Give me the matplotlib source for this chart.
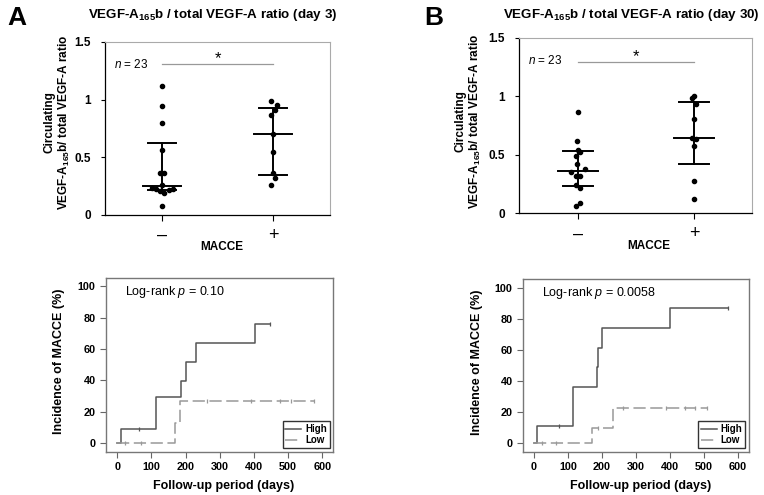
import matplotlib
matplotlib.use("Agg")
import matplotlib.pyplot as plt
import numpy as np

plt.rcParams['font.family'] = ['Liberation Sans', 'DejaVu Sans']
plt.rcParams['mathtext.fontset'] = 'custom'
plt.rcParams['mathtext.rm'] = 'Liberation Sans'
plt.rcParams['mathtext.it'] = 'Liberation Sans:italic'
plt.rcParams['mathtext.bf'] = 'Liberation Sans:bold'

# ---- top panels: ratio by MACCE group ----
groups = ['\u2013', '+']

a_neg = [1.116, 0.94, 0.80, 0.558, 0.357, 0.357, 0.26, 0.233, 0.218, 0.203, 0.19, 0.21, 0.22, 0.075]
a_neg_jit = [0, 0, 0, 0, -0.015, 0.018, 0, -0.09, -0.054, -0.015, 0.02, 0.06, 0.096, 0]
a_pos = [0.99, 0.948, 0.913, 0.866, 0.70, 0.543, 0.36, 0.32, 0.26]
a_pos_jit = [-0.021, 0.04, 0.018, -0.015, 0, 0, 0, 0.021, -0.021]
a_q1 = [0.21, 0.34]
a_med = [0.25, 0.70]
a_q3 = [0.62, 0.93]

b_neg = [0.868, 0.612, 0.54, 0.52, 0.49, 0.42, 0.376, 0.35, 0.32, 0.32, 0.24, 0.215, 0.082, 0.063]
b_neg_jit = [0, -0.006, 0, 0.015, -0.02, -0.006, 0.057, -0.057, -0.02, 0.015, -0.02, 0.015, 0.015, -0.02]
b_pos = [1.0, 0.98, 0.93, 0.806, 0.64, 0.635, 0.575, 0.27, 0.12]
b_pos_jit = [0, -0.015, 0.015, 0, -0.015, 0.02, 0, 0, 0]
b_q1 = [0.233, 0.42]
b_med = [0.36, 0.644]
b_q3 = [0.527, 0.95]

sig_level = [1.31, 1.296]

# ---- bottom panels: cumulative incidence (step times / values) ----
ka_high_t = [0, 10, 112, 186, 200, 231, 402, 447]
ka_high_y = [0, 9.1, 29.3, 39.4, 51.6, 63.6, 75.8, 75.8]
ka_high_c = [64, 447]
ka_low_t = [0, 170, 184, 574]
ka_low_y = [0, 12.7, 26.9, 26.9]
ka_low_c = [23, 68, 262, 390, 476, 507, 574]

kb_high_t = [0, 9, 115, 186, 188, 200, 402, 572]
kb_high_y = [0, 11.1, 36.5, 49.0, 61.6, 74.1, 87.1, 87.1]
kb_high_c = [74, 572]
kb_low_t = [0, 170, 232, 511]
kb_low_y = [0, 10.2, 22.9, 22.9]
kb_low_c = [23, 65, 189, 263, 388, 445, 474, 511]

W, H = 764, 495
fig = plt.figure(figsize=(W / 100, H / 100), dpi=100)


def px_axes(l, t, r, b):
    return fig.add_axes([l / W, 1 - b / H, (r - l) / W, (b - t) / H])


def scatter_panel(ax, neg, neg_j, pos, pos_j, q1, med, q3, sig, xlim, title_x, title, letter, letter_x):
    ax.plot(1 + np.array(neg_j), neg, 'o', color='black', ms=3.0, clip_on=False)
    ax.plot(2 + np.array(pos_j), pos, 'o', color='black', ms=3.0, clip_on=False)
    for i, x in enumerate([1, 2]):
        ax.plot([x, x], [q1[i], q3[i]], color='black', lw=1.4)
        ax.plot([x - 0.13, x + 0.13], [q1[i], q1[i]], color='black', lw=1.4)
        ax.plot([x - 0.13, x + 0.13], [q3[i], q3[i]], color='black', lw=1.4)
        ax.plot([x - 0.17, x + 0.17], [med[i], med[i]], color='black', lw=1.4)
    ax.plot([1, 2], [sig, sig], color='#999999', lw=0.9)
    ax.text(1.5, sig + 0.045, '*', ha='center', va='center', fontsize=12)
    ax.text(0.04, 0.87, '$n$ = 23', transform=ax.transAxes, fontsize=8.5, va='center')
    ax.set_xlim(*xlim)
    ax.set_ylim(0, 1.5)
    ax.set_yticks([0, 0.5, 1, 1.5], ['0', '0.5', '1', '1.5'])
    ax.set_xticks([1, 2], groups)
    ax.tick_params(axis='y', length=3, labelsize=8.5, pad=7)
    ax.tick_params(axis='x', length=4, labelsize=13, pad=5)
    for lbl in ax.get_yticklabels():
        lbl.set_fontweight('bold')
    ax.spines['top'].set_color('#aaaaaa')
    ax.spines['right'].set_color('#aaaaaa')
    ax.spines['left'].set_linewidth(0.9)
    ax.spines['bottom'].set_linewidth(0.9)
    fig.text(title_x / W, 1 - 15 / H, title, ha='center', va='center', fontsize=9.6, fontweight='bold')
    fig.text(letter_x / W, 1 - 18 / H, letter, ha='center', va='center', fontsize=19, fontweight='bold')


def km_panel(ax, ht, hy, hc, lt, ly, lc, xlim, ptext):
    ax.step(ht, hy, where='post', color='#555555', lw=1.1, label='High')
    ax.step(lt, ly, where='post', color='#999999', lw=1.1, dashes=(8, 3), label='Low')
    hidx = np.searchsorted(ht, hc, side='right') - 1
    ax.plot(hc, np.array(hy)[hidx], '|', color='#555555', ms=3, mew=0.9)
    lidx = np.searchsorted(lt, lc, side='right') - 1
    ax.plot(lc, np.array(ly)[lidx], '|', color='#999999', ms=3, mew=0.9)
    ax.set_xlim(*xlim)
    ax.set_ylim(-5.3, 105.4)
    ax.set_xticks(range(0, 601, 100))
    ax.set_yticks(range(0, 101, 20))
    ax.tick_params(length=4, labelsize=7.8, color='#666666')
    for lbl in ax.get_xticklabels() + ax.get_yticklabels():
        lbl.set_fontweight('bold')
    for s in ax.spines.values():
        s.set_color('#777777')
        s.set_linewidth(1.0)
    ax.text(0.084, 0.92, 'Log-rank $p$ = ' + ptext, transform=ax.transAxes, fontsize=9, va='center')
    leg = ax.legend(loc='lower right', frameon=True, fancybox=False,
                    edgecolor='black', handlelength=1.6, handletextpad=0.4,
                    borderpad=0.3, labelspacing=0.15, borderaxespad=0.35,
                    prop={'weight': 'bold', 'size': 7})
    leg.get_frame().set_linewidth(1.0)
    ax.text(-0.205, 0.518, 'Incidence of MACCE (%)', transform=ax.transAxes, rotation=90,
            ha='center', va='center', fontsize=9, fontweight='bold')
    ax.text(0.52, -0.2, 'Follow-up period (days)', transform=ax.transAxes,
            ha='center', va='center', fontsize=9, fontweight='bold')


ylab = 'Circulating\nVEGF-A$_{\\mathbf{165}}$b/ total VEGF-A ratio'

ax1 = px_axes(105, 42, 330, 214.5)
scatter_panel(ax1, a_neg, a_neg_jit, a_pos, a_pos_jit, a_q1, a_med, a_q3, sig_level[0],
              (0.486, 2.514), 213, 'VEGF-A$_{\\mathbf{165}}$b / total VEGF-A ratio (day 3)', 'A', 17)
ax1.text(-0.209, 0.536, ylab, transform=ax1.transAxes, rotation=90, ha='center', va='center',
         fontsize=8.5, fontweight='bold', linespacing=1.1)
ax1.text(0.52, -0.187, 'MACCE', transform=ax1.transAxes, ha='center', va='center',
         fontsize=8.5, fontweight='bold')

ax2 = px_axes(518.7, 37.7, 752, 213)
scatter_panel(ax2, b_neg, b_neg_jit, b_pos, b_pos_jit, b_q1, b_med, b_q3, sig_level[1],
              (0.489, 2.5), 631, 'VEGF-A$_{\\mathbf{165}}$b / total VEGF-A ratio (day 30)', 'B', 434)
ax2.text(-0.213, 0.522, ylab, transform=ax2.transAxes, rotation=90, ha='center', va='center',
         fontsize=8.5, fontweight='bold', linespacing=1.1)
ax2.text(0.557, -0.19, 'MACCE', transform=ax2.transAxes, ha='center', va='center',
         fontsize=8.5, fontweight='bold')

ax3 = px_axes(106, 277.7, 333, 451.7)
km_panel(ax3, ka_high_t, ka_high_y, ka_high_c, ka_low_t, ka_low_y, ka_low_c, (-33, 631), '0.10')

ax4 = px_axes(523, 279.3, 748.7, 451.7)
km_panel(ax4, kb_high_t, kb_high_y, kb_high_c, kb_low_t, kb_low_y, kb_low_c, (-32.4, 632.6), '0.0058')

fig.savefig('out.png', dpi=100)
